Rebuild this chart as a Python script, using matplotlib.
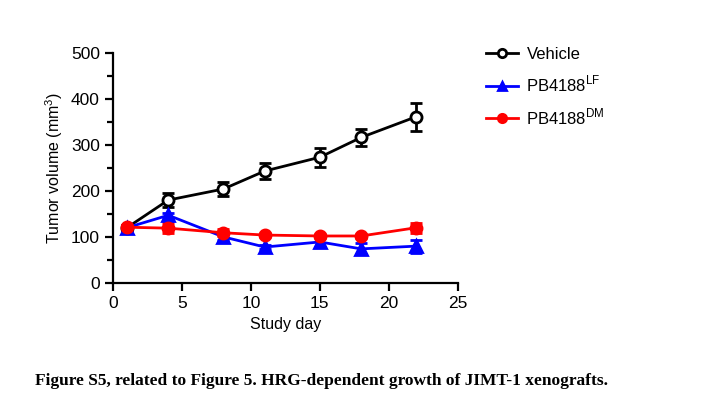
import matplotlib
matplotlib.use('Agg')
from matplotlib import pyplot as plt
from matplotlib.lines import Line2D
from matplotlib.ticker import MultipleLocator

plt.rcParams['font.family'] = ['Liberation Sans', 'DejaVu Sans']
plt.rcParams['mathtext.fontset'] = 'custom'
plt.rcParams['mathtext.rm'] = 'Liberation Sans'

days = [1, 4, 8, 11, 15, 18, 22]

vehicle = [120, 180, 204, 243, 273, 316, 361]
vehicle_err = [6, 16, 15, 17, 21, 19, 30]

pb_lf = [120, 147, 100, 78, 89, 74, 80]
pb_lf_err = [5, 5, 6, 4, 12, 12, 14]

pb_dm = [121, 119, 109, 104, 102, 102, 120]
pb_dm_err = [5, 11, 8, 4, 5, 5, 11]

series = [
    ('Vehicle', vehicle, vehicle_err, 'black', 'o', 'white'),
    ('PB4188$^{\\mathrm{LF}}$', pb_lf, pb_lf_err, '#0000ff', '^', '#0000ff'),
    ('PB4188$^{\\mathrm{DM}}$', pb_dm, pb_dm_err, '#ff0000', 'o', '#ff0000'),
]

fig = plt.figure(figsize=(7.03, 3.93), dpi=100)
ax = fig.add_axes([0.161, 0.280, 0.490, 0.586])

handles = []
for label, vals, errs, color, marker, face in series:
    ax.errorbar(days, vals, yerr=errs, color=color, marker=marker, mfc=face,
                mec=color, mew=2, ms=8, lw=2, elinewidth=2, capsize=4,
                capthick=2)
    handles.append(Line2D([], [], color=color, marker=marker, mfc=face, mec=color,
                          mew=2, ms=6, lw=2, label=label))

ax.set_xlim(0, 25)
ax.set_ylim(0, 500)
ax.xaxis.set_major_locator(MultipleLocator(5))
ax.yaxis.set_major_locator(MultipleLocator(100))
ax.yaxis.set_minor_locator(MultipleLocator(50))
for side in ['top', 'right']:
    ax.spines[side].set_visible(False)
for side in ['left', 'bottom']:
    ax.spines[side].set_linewidth(1.6)
ax.tick_params(which='major', width=1.6, length=6, labelsize=12.5, color='black')
ax.tick_params(which='minor', width=1.6, length=4)
ax.set_xlabel('Study day', fontsize=11.5)
ax.set_ylabel('Tumor volume (mm$^{3}$)', fontsize=11.5)

ax.legend(handles=handles, loc='upper left', bbox_to_anchor=(1.04, 1.09), frameon=False,
          fontsize=12, handlelength=1.9, handletextpad=0.5, labelspacing=0.72)

fig.text(0.05, 0.02, 'Figure S5, related to Figure 5. HRG-dependent growth of JIMT-1 xenografts.',
         family=['Liberation Serif'], weight='bold', fontsize=12.5)

fig.savefig('out.png', dpi=100)
